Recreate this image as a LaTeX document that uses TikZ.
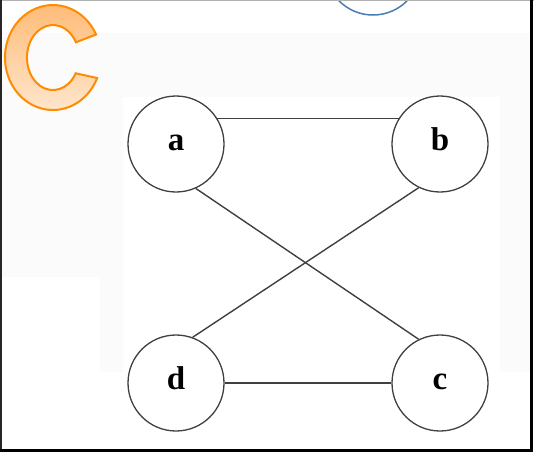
\documentclass[tikz,border=0pt]{standalone}
\usepackage{fontspec}
\setmainfont{Liberation Serif}
\definecolor{corange}{RGB}{255,140,0}
\definecolor{cblue}{RGB}{74,125,181}
\begin{document}
\begin{tikzpicture}
    [x=1pt,y=-1pt,inner sep=0pt,minimum size=96pt,
     vertex/.style={circle,draw=black!75,line width=1.3pt,text height=12pt,text depth=0pt,
       font=\fontsize{33}{33}\selectfont\bfseries},
     edge/.style={draw=black!75,line width=1.4pt}]
    \useasboundingbox (0,0) rectangle (534,453);
    \fill [white] (0,0) rectangle (534,453);
    \fill [gray!3] (0,33) rectangle (531,97);
    \fill [gray!3] (0,97) rectangle (123,277);
    \fill [gray!3] (500,97) rectangle (531,372);
    \fill [gray!3] (100,277) rectangle (123,372);
    \begin{scope}
      \clip (0,0) rectangle (534,453);
      \draw [cblue, line width=1.5pt] (373,-33) circle [radius=48];
    \end{scope}
    \draw [corange, line width=2pt, top color=orange!55, bottom color=orange!18]
      (96.1,34.5) arc [start angle=-26, end angle=-337, x radius=48, y radius=52.5]
      -- (75.7,73.3) arc [start angle=29, end angle=332, x radius=26, y radius=32.5] -- cycle;
    \draw [gray!60, line width=1pt] (0,0.5) -- (534,0.5);
    \draw [black!85, line width=1.5pt] (1,0) -- (1,451);
    \draw [black, line width=2.5pt] (531.5,0) -- (531.5,451);
    \draw [black, line width=3pt] (0,450.5) -- (533,450.5);
    \node (a) at (176,144) [vertex] {a};
    \node (b) at (440,144) [vertex] {b};
    \node (c) at (440,383) [vertex] {c};
    \node (d) at (176,383) [vertex] {d};
    \draw [edge] (a.32) to (b.148);
    \draw [edge] (a.-66) to (c.116);
    \draw [edge] (d.70) to (b.-116);
    \draw [edge] (d) to (c);
\end{tikzpicture}
\end{document}
